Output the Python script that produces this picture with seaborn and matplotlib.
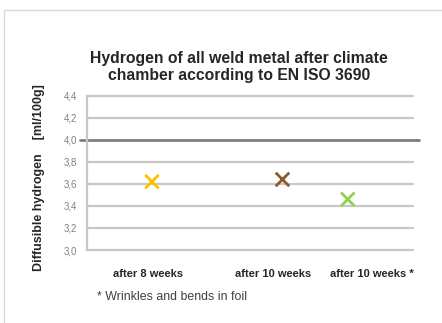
import matplotlib
matplotlib.use("Agg")
import matplotlib.pyplot as plt
from matplotlib.patches import Rectangle
import seaborn as sns
import pandas as pd

# ---- data ----
series = ["after 8 weeks", "after 10 weeks", "after 10 weeks *"]
x_values = [1, 3, 4]
hydrogen = [3.62, 3.64, 3.46]
colors = ["#FFC000", "#8B5A2B", "#92D050"]
y_ticks = [3.0, 3.2, 3.4, 3.6, 3.8, 4.0, 4.2, 4.4]
limit_value = 4.0
title = "Hydrogen of all weld metal after climate\nchamber according to EN ISO 3690"
y_label = "Diffusible hydrogen    [ml/100g]"
footnote = "* Wrinkles and bends in foil"

df = pd.DataFrame({"series": series, "x": x_values, "h": hydrogen})

sns.set_theme(style="white")
plt.rcParams["font.family"] = ["Liberation Sans", "DejaVu Sans"]

fig = plt.figure(figsize=(4.42, 3.23), dpi=100)
fig.patch.set_facecolor("white")
fig.patches.append(Rectangle((4 / 442, -0.1), 1.1, 1 - 10 / 323 + 0.1,
                             transform=fig.transFigure, fill=False,
                             edgecolor="#d9d9d9", linewidth=1.0))

ax = fig.add_axes([86.7 / 442, 1 - 250 / 323, 326.3 / 442, 154.3 / 323])
ax.set_xlim(0, 5)
ax.set_ylim(y_ticks[0], y_ticks[-1])

for v in y_ticks:
    if v == limit_value:
        ax.axhline(v, xmin=-0.0205, xmax=1.018, color="#7f7f7f", lw=2.0,
                   clip_on=False, zorder=1)
    else:
        ax.axhline(v, color="#c8c8c8", lw=1.6, clip_on=False, zorder=1)

sns.scatterplot(data=df, x="x", y="h", hue="series", palette=colors,
                marker="x", s=95, linewidth=2.0, legend=False, ax=ax,
                zorder=3, clip_on=False)

for s in ["top", "right", "bottom"]:
    ax.spines[s].set_visible(False)
ax.spines["left"].set_color("#c8c8c8")
ax.spines["left"].set_linewidth(1.6)

ax.set_yticks(y_ticks)
ax.set_yticklabels([f"{v:.1f}".replace(".", ",") for v in y_ticks],
                   fontsize=7, color="#808080")
ax.tick_params(axis="y", length=0, pad=7)

label_pos = [0.947, 2.862, 4.372]
ax.set_xticks(label_pos)
ax.set_xticklabels(series, fontsize=8, fontweight="bold", color="#262626")
ax.tick_params(axis="x", length=0, pad=14)
ax.set_xlabel("")
ax.set_ylabel("")

fig.text(239 / 442, 1 - 67 / 323, title, ha="center", va="center",
         fontsize=11.35, fontweight="bold", color="#262626", linespacing=1.1)
fig.text(39 / 442, 1 - 178 / 323, y_label, rotation=90, ha="center",
         va="center", fontsize=9, fontweight="bold", color="#262626")
fig.text(97 / 442, 1 - 297 / 323, footnote, ha="left", va="center",
         fontsize=8.9, color="#404040")

fig.savefig("out.png", dpi=100, facecolor="white")
